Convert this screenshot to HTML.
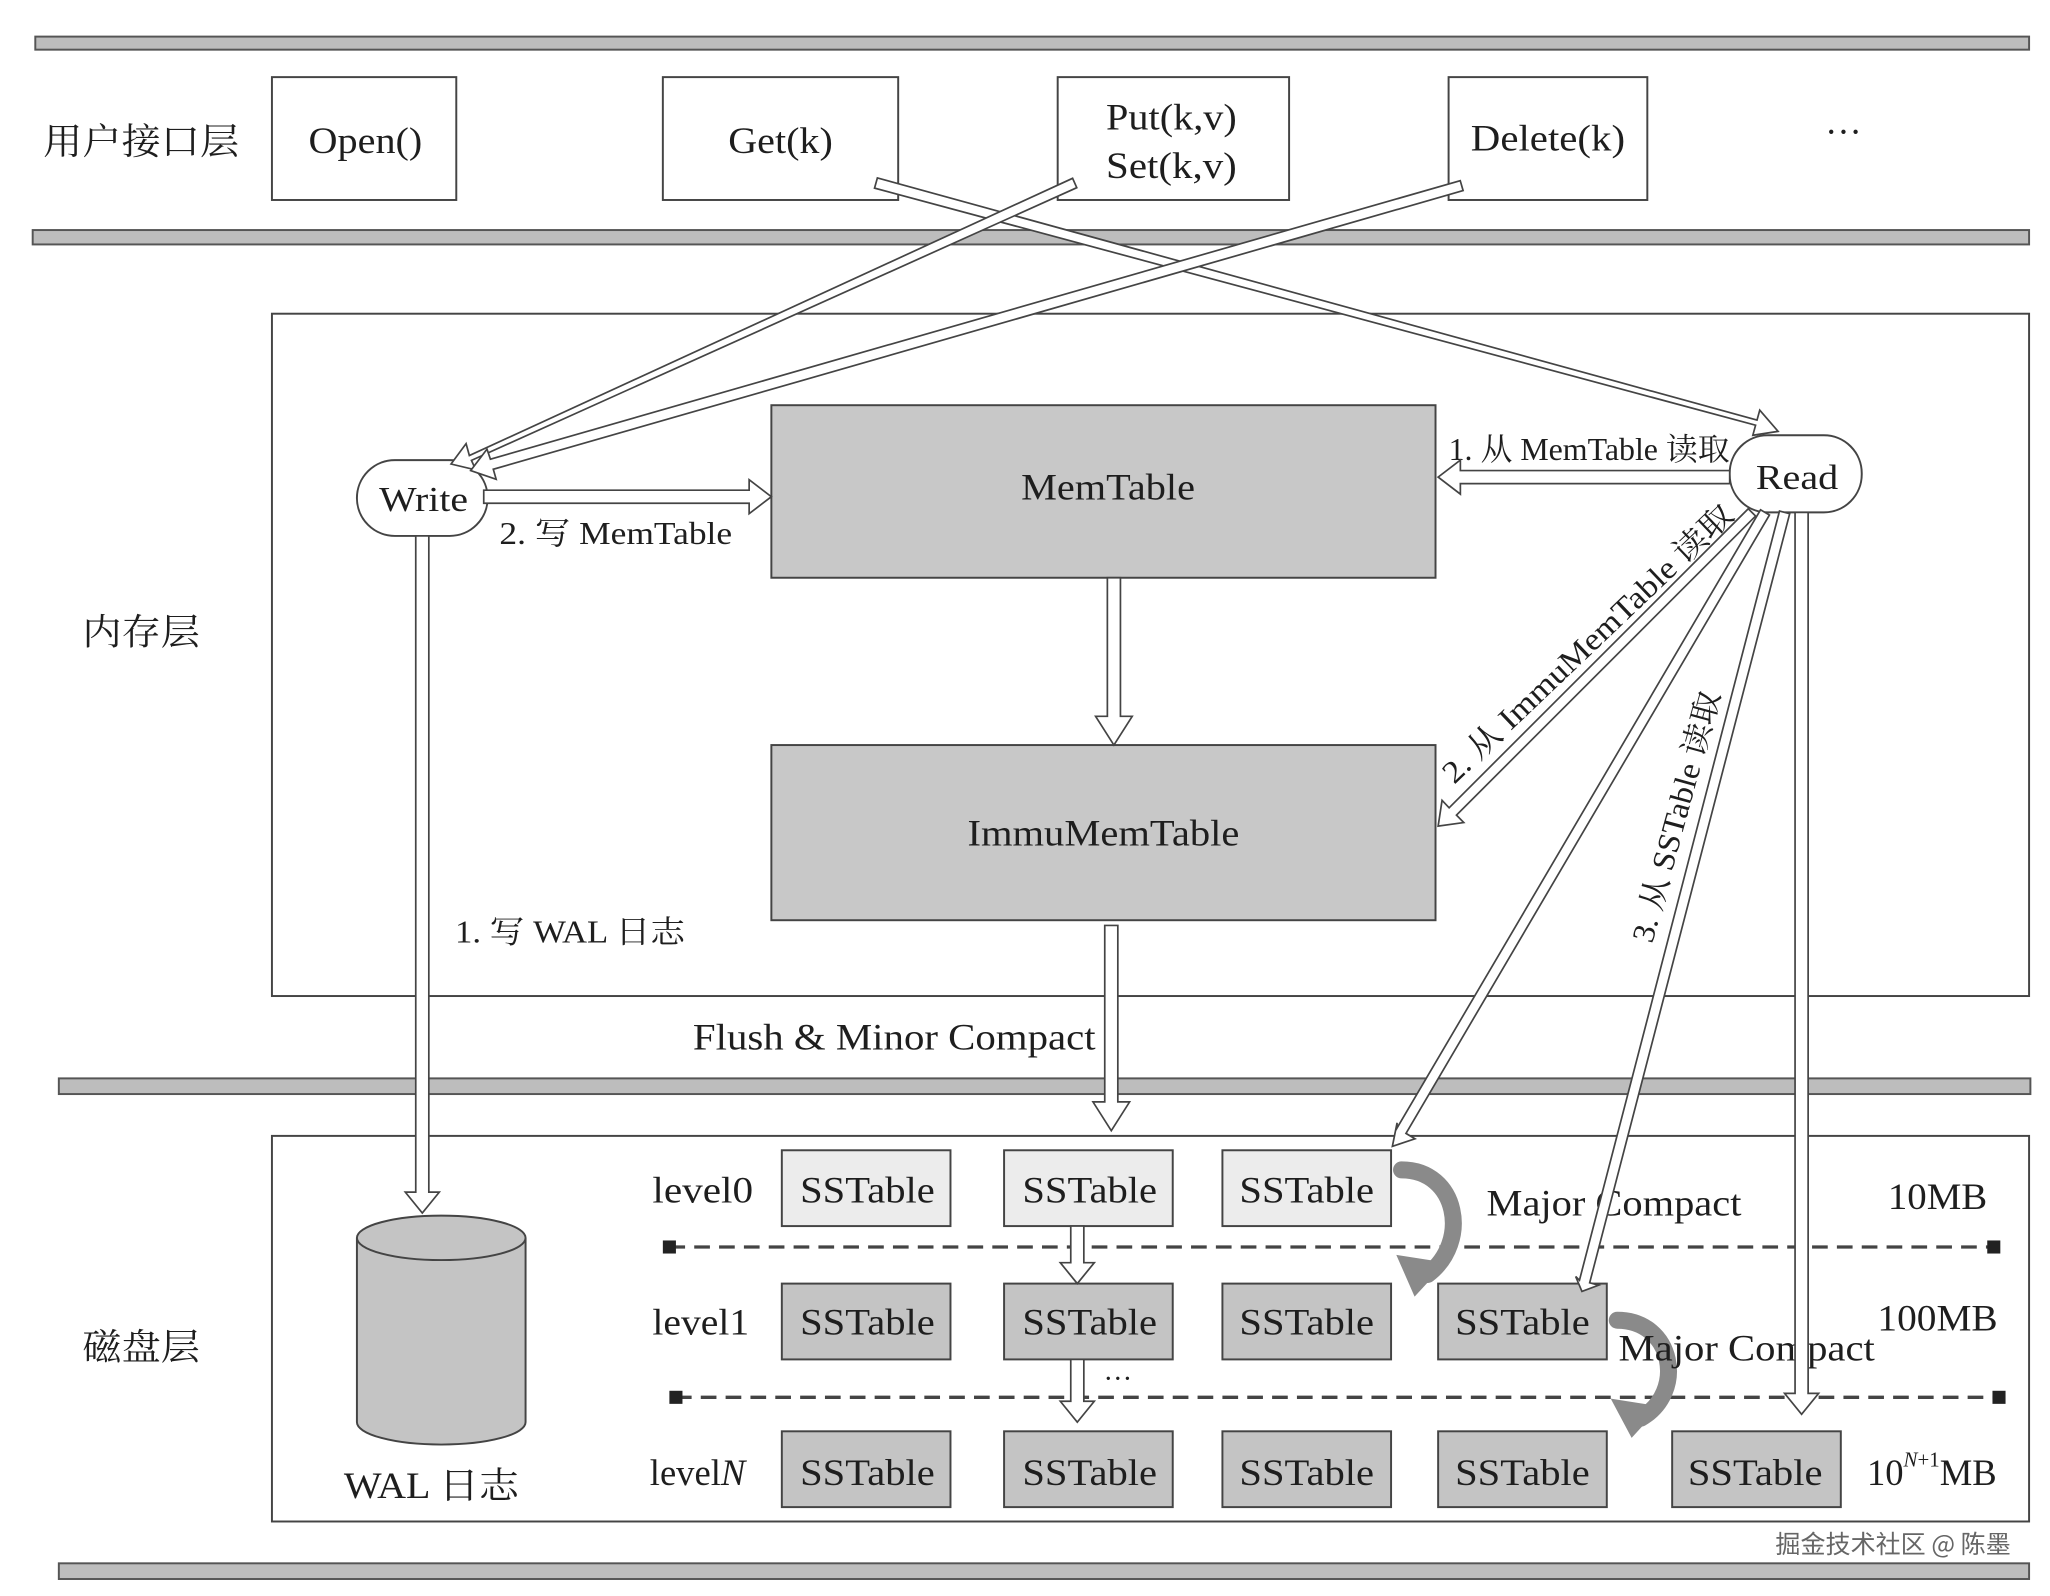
<!DOCTYPE html>
<html><head><meta charset="utf-8">
<style>
html,body{margin:0;padding:0;background:#fff;}
svg{display:block;}
text{font-family:"Liberation Serif","Noto Serif CJK SC","Noto Sans CJK SC",serif;fill:#1e1e1e;}
</style></head>
<body>
<svg width="2050" height="1596" viewBox="0 0 1568 1221" preserveAspectRatio="none" xmlns="http://www.w3.org/2000/svg">
<rect width="1568" height="1221" fill="#fff"/>
<g fill="#bdbdbd" stroke="#555" stroke-width="1.5">
<rect x="27" y="28" width="1525" height="10"/>
<rect x="25" y="176" width="1527" height="11"/>
<rect x="45" y="825" width="1508" height="12"/>
<rect x="45" y="1196" width="1507" height="12"/>
</g>
<text x="33" y="118" font-size="28" textLength="150" lengthAdjust="spacingAndGlyphs">用户接口层</text>
<text x="63" y="493" font-size="28" textLength="90" lengthAdjust="spacingAndGlyphs">内存层</text>
<text x="63" y="1040" font-size="28" textLength="90" lengthAdjust="spacingAndGlyphs">磁盘层</text>
<g fill="#fff" stroke="#444" stroke-width="1.5">
<rect x="208" y="59" width="141" height="94"/>
<rect x="507" y="59" width="180" height="94"/>
<rect x="809" y="59" width="177" height="94"/>
<rect x="1108" y="59" width="152" height="94"/>
</g>
<g font-size="28" lengthAdjust="spacingAndGlyphs">
<text x="236" y="117" textLength="87" lengthAdjust="spacingAndGlyphs">Open()</text>
<text x="557" y="117" textLength="80" lengthAdjust="spacingAndGlyphs">Get(k)</text>
<text x="846" y="99" textLength="100" lengthAdjust="spacingAndGlyphs">Put(k,v)</text>
<text x="846" y="136" textLength="100" lengthAdjust="spacingAndGlyphs">Set(k,v)</text>
<text x="1125" y="115" textLength="118" lengthAdjust="spacingAndGlyphs">Delete(k)</text>
<text x="1410" y="110" text-anchor="middle">···</text>
</g>
<rect x="208" y="240" width="1344" height="522" fill="none" stroke="#444" stroke-width="1.5"/>
<rect x="208" y="869" width="1344" height="295" fill="none" stroke="#444" stroke-width="1.5"/>
<rect x="590" y="310" width="508" height="132" fill="#c8c8c8" stroke="#444" stroke-width="1.5"/>
<rect x="590" y="570" width="508" height="134" fill="#c8c8c8" stroke="#444" stroke-width="1.5"/>
<text x="781" y="382" font-size="28" textLength="133" lengthAdjust="spacingAndGlyphs">MemTable</text>
<text x="740" y="647" font-size="28" textLength="208" lengthAdjust="spacingAndGlyphs">ImmuMemTable</text>
<g stroke="#444" stroke-width="2.5" stroke-dasharray="12,7">
<line x1="512" y1="954" x2="1525" y2="954"/>
<line x1="517" y1="1069" x2="1529" y2="1069"/>
</g>
<g fill="#222">
<rect x="507" y="949" width="10" height="10"/><rect x="1520" y="949" width="10" height="10"/>
<rect x="512" y="1064" width="10" height="10"/><rect x="1524" y="1064" width="10" height="10"/>
</g>
<g stroke="#444" stroke-width="1.5">
<rect x="598" y="880" width="129" height="58" fill="#ececec"/>
<rect x="768" y="880" width="129" height="58" fill="#ececec"/>
<rect x="935" y="880" width="129" height="58" fill="#ececec"/>
<rect x="598" y="982" width="129" height="58" fill="#c4c4c4"/>
<rect x="768" y="982" width="129" height="58" fill="#c4c4c4"/>
<rect x="935" y="982" width="129" height="58" fill="#c4c4c4"/>
<rect x="1100" y="982" width="129" height="58" fill="#c4c4c4"/>
<rect x="598" y="1095" width="129" height="58" fill="#c4c4c4"/>
<rect x="768" y="1095" width="129" height="58" fill="#c4c4c4"/>
<rect x="935" y="1095" width="129" height="58" fill="#c4c4c4"/>
<rect x="1100" y="1095" width="129" height="58" fill="#c4c4c4"/>
<rect x="1279" y="1095" width="129" height="58" fill="#c4c4c4"/>
</g>
<g font-size="28">
<text x="612" y="920" textLength="103" lengthAdjust="spacingAndGlyphs">SSTable</text>
<text x="782" y="920" textLength="103" lengthAdjust="spacingAndGlyphs">SSTable</text>
<text x="948" y="920" textLength="103" lengthAdjust="spacingAndGlyphs">SSTable</text>
<text x="612" y="1021" textLength="103" lengthAdjust="spacingAndGlyphs">SSTable</text>
<text x="782" y="1021" textLength="103" lengthAdjust="spacingAndGlyphs">SSTable</text>
<text x="948" y="1021" textLength="103" lengthAdjust="spacingAndGlyphs">SSTable</text>
<text x="1113" y="1021" textLength="103" lengthAdjust="spacingAndGlyphs">SSTable</text>
<text x="612" y="1136" textLength="103" lengthAdjust="spacingAndGlyphs">SSTable</text>
<text x="782" y="1136" textLength="103" lengthAdjust="spacingAndGlyphs">SSTable</text>
<text x="948" y="1136" textLength="103" lengthAdjust="spacingAndGlyphs">SSTable</text>
<text x="1113" y="1136" textLength="103" lengthAdjust="spacingAndGlyphs">SSTable</text>
<text x="1291" y="1136" textLength="103" lengthAdjust="spacingAndGlyphs">SSTable</text>
<text x="499" y="920" textLength="77" lengthAdjust="spacingAndGlyphs">level0</text>
<text x="499" y="1021" textLength="74" lengthAdjust="spacingAndGlyphs">level1</text>
<text x="497" y="1136">level<tspan font-style="italic">N</tspan></text>
<text x="1444" y="925" textLength="76" lengthAdjust="spacingAndGlyphs">10MB</text>
<text x="1436" y="1018" textLength="92" lengthAdjust="spacingAndGlyphs">100MB</text>
<text x="1428" y="1136">10<tspan font-size="16" dy="-14" font-style="italic">N</tspan><tspan font-size="16">+1</tspan><tspan dy="14">MB</tspan></text>
</g>
<path d="M273,947 L273,1088 A64,17 0 0 0 402,1088 L402,947" fill="#c4c4c4" stroke="#444" stroke-width="1.5"/>
<ellipse cx="337.5" cy="947" rx="64.5" ry="17" fill="#c4c4c4" stroke="#444" stroke-width="1.5"/>
<text x="263" y="1146" font-size="28" textLength="134" lengthAdjust="spacingAndGlyphs">WAL 日志</text>
<rect x="273" y="352" width="100" height="58" rx="29" fill="#fff" stroke="#444" stroke-width="1.5"/>
<rect x="1323" y="333" width="101" height="59" rx="29" fill="#fff" stroke="#444" stroke-width="1.5"/>
<text x="290" y="391" font-size="27" textLength="68" lengthAdjust="spacingAndGlyphs">Write</text>
<text x="1343" y="374" font-size="27" textLength="63" lengthAdjust="spacingAndGlyphs">Read</text>
<g fill="none" stroke="#8a8a8a" stroke-width="13" stroke-linecap="round">
<path d="M1072,895 C1115,895 1125,950 1092,975"/>
<path d="M1237,1010 C1280,1010 1290,1065 1255,1085"/>
</g>
<polygon points="1068,960 1106,966 1082,992" fill="#8a8a8a"/>
<polygon points="1232,1070 1270,1076 1248,1100" fill="#8a8a8a"/>
<g font-size="24">
<text x="1108" y="352" textLength="215" lengthAdjust="spacingAndGlyphs">1. 从 MemTable 读取</text>
<text x="382" y="416" textLength="178" lengthAdjust="spacingAndGlyphs">2. 写 MemTable</text>
<text x="348" y="721" textLength="176" lengthAdjust="spacingAndGlyphs">1. 写 WAL 日志</text>
<text x="1215" y="500" text-anchor="middle" textLength="297" lengthAdjust="spacingAndGlyphs" transform="rotate(-43.6 1215 493)">2. 从 ImmuMemTable 读取</text>
<text x="1283" y="632" text-anchor="middle" textLength="198" lengthAdjust="spacingAndGlyphs" transform="rotate(-74.7 1283 625)">3. 从 SSTable 读取</text>
</g>
<text x="530" y="803" font-size="28" textLength="308" lengthAdjust="spacingAndGlyphs">Flush &amp; Minor Compact</text>
<text x="1137" y="930" font-size="28" textLength="195" lengthAdjust="spacingAndGlyphs">Major Compact</text>
<text x="1238" y="1041" font-size="28" textLength="196" lengthAdjust="spacingAndGlyphs">Major Compact</text>
<text x="855" y="1062" font-size="22" text-anchor="middle">···</text>
<text x="1358" y="1188" font-size="19" textLength="180" lengthAdjust="spacingAndGlyphs" style="font-family:'Noto Sans CJK SC',sans-serif;fill:#666">掘金技术社区 @ 陈墨</text>
<g fill="#fff" stroke="#444" stroke-width="1.3">
<polygon points="318,410 328,410 328,912 336,912 323,928 310,912 318,912"/>
<polygon points="370,375 370,385 573,385 573,393 590,380 573,367 573,375"/>
<polygon points="1323,360 1323,370 1117,370 1117,378 1100,365 1117,352 1117,360"/>
<polygon points="847,442 857,442 857,548 866,548 852,570 838,548 847,548"/>
<polygon points="845,708 855,708 855,843 864,843 850,865 836,843 845,843"/>
<polygon points="1373,392 1383,392 1383,1066 1391,1066 1378,1082 1365,1066 1373,1066"/>
<polygon points="819,938 829,938 829,966 837,966 824,982 811,966 819,966"/>
<polygon points="819,1040 829,1040 829,1072 837,1072 824,1088 811,1072 819,1072"/>
<polygon points="671.1,136.1 1343.9,321.4 1346.0,313.8 1360,330 1340.7,333.0 1342.8,325.3 668.9,143.9"/>
<polygon points="823.6,143.6 360.6,352.2 363.9,359.5 345,355 356.5,339.4 359.0,348.5 820.4,136.4"/>
<polygon points="1119.1,145.8 377.3,359.0 379.5,366.7 360,360 372.5,343.6 375.1,351.3 1116.9,138.2"/>
<polygon points="1342.8,394.8 1114.0,623.6 1119.6,629.3 1100,632 1103.0,612.3 1108.4,618.0 1337.2,389.2"/>
<polygon points="1353.4,394.0 1075.4,867.1 1082.3,871.2 1065,877 1068.6,859.0 1068.5,863.1 1346.6,390.0"/>
<polygon points="1368.9,393.0 1215.9,981.4 1222.8,983.2 1210,988 1205.2,976.6 1208.1,979.4 1361.1,391.0"/>
</g>
</svg>
</body></html>
